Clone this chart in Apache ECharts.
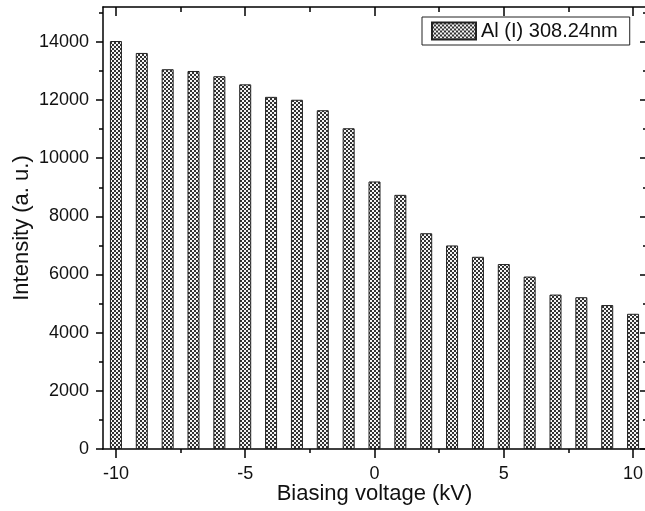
<!DOCTYPE html>
<html>
<head>
<meta charset="utf-8">
<script src="https://cdn.jsdelivr.net/npm/echarts@6/dist/echarts.min.js"></script>
<style>
  html, body { margin: 0; padding: 0; background: #fff; }
  #chart { width: 645px; height: 511px; }
</style>
</head>
<body>
<div id="chart"></div>
<script>
// ---- data ----
var voltages = [-10, -9, -8, -7, -6, -5, -4, -3, -2, -1, 0, 1, 2, 3, 4, 5, 6, 7, 8, 9, 10];
var intensities = [14030, 13620, 13060, 13000, 12820, 12540, 12110, 12010, 11650, 11030,
                   9200, 8740, 7420, 7000, 6610, 6360, 5930, 5310, 5220, 4950, 4650];
var xMajorTicks = [-10, -5, 0, 5, 10];
var xMinorTicks = [-7.5, -2.5, 2.5, 7.5];
var yMajorTicks = [0, 2000, 4000, 6000, 8000, 10000, 12000, 14000];
var yMinorTicks = [1000, 3000, 5000, 7000, 9000, 11000, 13000, 15000];
var seriesName = 'Al (I) 308.24nm';

// crosshatch pattern
function makePattern() {
  var c = document.createElement('canvas');
  c.width = 4; c.height = 4;
  var ctx = c.getContext('2d');
  var img = ctx.createImageData(4, 4);
  for (var y = 0; y < 4; y++) {
    for (var x = 0; x < 4; x++) {
      var dark = ((Math.floor(x / 2) + Math.floor(y / 2)) % 2) === 0;
      var v = dark ? 50 : 245;
      var k = (y * 4 + x) * 4;
      img.data[k] = v; img.data[k + 1] = v; img.data[k + 2] = v; img.data[k + 3] = 255;
    }
  }
  ctx.putImageData(img, 0, 0);
  return c;
}
var pattern = { image: makePattern(), repeat: 'repeat' };

var FONT = 'Liberation Sans, Arial, sans-serif';
var xMin = -10.5, xMax = 10.5, yMin = 0, yMax = 15200;

function plain(v) { return String(v); }

function xAxisDef(pos, ticks, len, inside, showLine, showLabel, extra) {
  var a = {
    type: 'value', position: pos, min: xMin, max: xMax,
    splitLine: { show: false },
    axisLine: { show: showLine, onZero: false, lineStyle: { color: '#000', width: 1.5 } },
    axisTick: { show: true, inside: inside, length: len, customValues: ticks,
                lineStyle: { color: '#000', width: 1.5 } },
    axisLabel: { show: showLabel, customValues: ticks, margin: 16, formatter: plain,
                 fontSize: 18, color: '#111', fontFamily: FONT }
  };
  return Object.assign(a, extra || {});
}
function yAxisDef(pos, ticks, len, inside, showLine, showLabel, extra) {
  var a = {
    type: 'value', position: pos, min: yMin, max: yMax,
    splitLine: { show: false },
    axisLine: { show: showLine, onZero: false, lineStyle: { color: '#000', width: 1.5 } },
    axisTick: { show: true, inside: inside, length: len, customValues: ticks,
                lineStyle: { color: '#000', width: 1.5 } },
    axisLabel: { show: showLabel, customValues: ticks, margin: 14, formatter: plain,
                 fontSize: 18, color: '#111', fontFamily: FONT }
  };
  return Object.assign(a, extra || {});
}

var chart = echarts.init(document.getElementById('chart'), null, { renderer: 'canvas' });
chart.setOption({
  animation: false,
  backgroundColor: '#fff',
  grid: { left: 103, right: -1, top: 7, bottom: 62, containLabel: false, outerBoundsMode: 'none' },
  legend: {
    data: [{ name: seriesName, icon: 'rect' }],
    left: 422, top: 17,
    orient: 'horizontal',
    itemWidth: 44, itemHeight: 17,
    padding: [4, 12, 4, 9],
    borderColor: '#222', borderWidth: 1,
    backgroundColor: '#fff',
    textStyle: { fontSize: 20, color: '#111', fontFamily: FONT, lineHeight: 20 }
  },
  xAxis: [
    xAxisDef('bottom', xMajorTicks, 9, false, true, true, {
      name: 'Biasing voltage (kV)', nameLocation: 'middle', nameGap: 34, nameMoveOverlap: false,
      nameTextStyle: { fontSize: 22, color: '#111', fontFamily: FONT }
    }),
    xAxisDef('top', xMajorTicks, 9, true, true, false),
    xAxisDef('bottom', xMinorTicks, 4, false, false, false),
    xAxisDef('top', xMinorTicks, 5, true, false, false)
  ],
  yAxis: [
    yAxisDef('left', yMajorTicks, 7, false, true, true, {
      name: 'Intensity (a. u.)', nameLocation: 'middle', nameGap: 70, nameMoveOverlap: false,
      nameTextStyle: { fontSize: 22, color: '#111', fontFamily: FONT }
    }),
    yAxisDef('right', yMajorTicks, 6, true, true, false),
    yAxisDef('left', yMinorTicks, 4, false, false, false),
    yAxisDef('right', yMinorTicks, 3, true, false, false)
  ],
  series: [{
    name: seriesName,
    type: 'bar',
    xAxisIndex: 0, yAxisIndex: 0,
    barWidth: 12,
    data: voltages.map(function (v, i) { return [v, intensities[i]]; }),
    itemStyle: { color: pattern, borderColor: '#222', borderWidth: 1 }
  }]
});
</script>
</body>
</html>
